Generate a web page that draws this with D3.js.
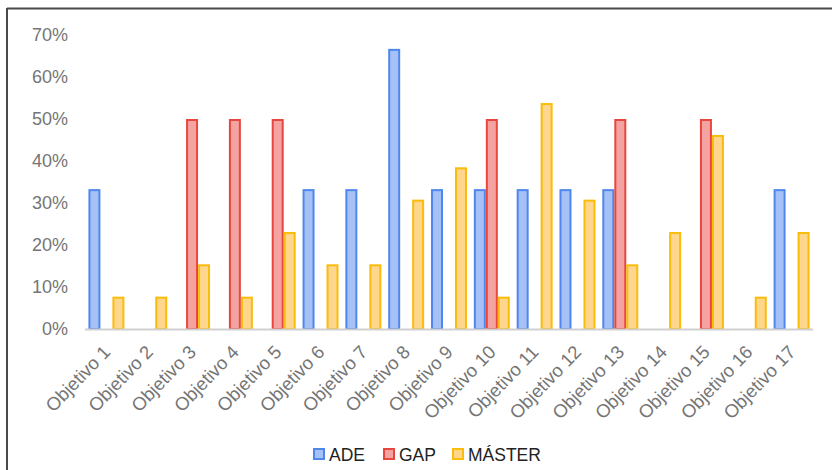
<!DOCTYPE html>
<html>
<head>
<meta charset="utf-8">
<script src="https://cdn.jsdelivr.net/npm/d3@7/dist/d3.min.js"></script>
<style>
  html, body { margin: 0; padding: 0; background: #fff; }
  svg { display: block; font-family: "Liberation Sans", Arial, sans-serif; }
</style>
</head>
<body>
<svg id="chart" width="832" height="470"></svg>
<script>
// Share of answers per Sustainable Development Goal, by group
const categories = ["Objetivo 1","Objetivo 2","Objetivo 3","Objetivo 4","Objetivo 5","Objetivo 6",
  "Objetivo 7","Objetivo 8","Objetivo 9","Objetivo 10","Objetivo 11","Objetivo 12","Objetivo 13",
  "Objetivo 14","Objetivo 15","Objetivo 16","Objetivo 17"];
const seriesNames = ["ADE", "GAP", "MÁSTER"];
const ade    = [0.333, 0, 0, 0, 0, 0.333, 0.333, 0.667, 0.333, 0.333, 0.333, 0.333, 0.333, 0, 0, 0, 0.333];
const gap    = [0, 0, 0.5, 0.5, 0.5, 0, 0, 0, 0, 0.5, 0, 0, 0.5, 0, 0.5, 0, 0];
const master = [0.077, 0.077, 0.154, 0.077, 0.231, 0.154, 0.154, 0.308, 0.385, 0.077, 0.538, 0.308, 0.154, 0.231, 0.462, 0.077, 0.231];
const yTicks = [0, 0.1, 0.2, 0.3, 0.4, 0.5, 0.6, 0.7];

const seriesValues = [ade, gap, master];
const fills   = ["#a6c1f6", "#f4a3a1", "#fed68d"];
const strokes = ["#4f87ec", "#e8473f", "#fbbc09"];

const svg = d3.select("#chart");

// outer frame (top and left edges visible)
svg.append("line").attr("x1", 7).attr("y1", 8.5).attr("x2", 832).attr("y2", 8.5)
  .attr("stroke", "#4a4a4a").attr("stroke-width", 2);
svg.append("line").attr("x1", 7).attr("y1", 8).attr("x2", 7).attr("y2", 470)
  .attr("stroke", "#4a4a4a").attr("stroke-width", 2);

const x0 = d3.scaleBand().domain(categories).range([85, 813]).paddingInner(0.16).paddingOuter(0.08);
const x1 = d3.scaleBand().domain(seriesNames).range([0, x0.bandwidth()]);
const y = d3.scaleLinear().domain([0, 0.7]).range([329, 35]);

// y axis labels
const yAxis = d3.axisLeft(y).tickValues(yTicks).tickFormat(d3.format(".0%")).tickSize(0).tickPadding(0);
const gy = svg.append("g").attr("transform", "translate(68,0)").call(yAxis);
gy.select(".domain").remove();
gy.selectAll("text").attr("fill", "#757575").attr("font-size", 18)
  .attr("font-family", "Liberation Sans, Arial, sans-serif");

// bars
const groups = svg.append("g").selectAll("g")
  .data(categories).join("g")
  .attr("transform", d => `translate(${x0(d)},0)`);

groups.selectAll("rect")
  .data((c, i) => seriesNames.map((s, k) => ({ s, k, v: seriesValues[k][i] })).filter(d => d.v > 0))
  .join("rect")
  .attr("x", d => x1(d.s) + 1)
  .attr("width", x1.bandwidth() - 2)
  .attr("y", d => y(d.v) + 1)
  .attr("height", d => y(0) - y(d.v) - 1)
  .attr("fill", d => fills[d.k])
  .attr("stroke", d => strokes[d.k])
  .attr("stroke-width", 2);

// baseline
svg.append("line").attr("x1", 85).attr("x2", 813).attr("y1", y(0) + 0.5).attr("y2", y(0) + 0.5)
  .attr("stroke", "#d0d0d0").attr("stroke-width", 2);

// x axis labels, rotated
const xAxis = d3.axisBottom(x0).tickSize(0).tickPadding(0);
const gx = svg.append("g").attr("transform", `translate(0,${y(0)})`).call(xAxis);
gx.select(".domain").remove();
gx.selectAll("text")
  .attr("fill", "#757575").attr("font-size", 18.5)
  .attr("font-family", "Liberation Sans, Arial, sans-serif")
  .attr("text-anchor", "end")
  .attr("dy", null)
  .attr("y", 0)
  .attr("transform", "translate(5,24) rotate(-46)");

// legend
const legend = svg.append("g");
const legendX = [313, 383, 452];
seriesNames.forEach((s, k) => {
  legend.append("rect").attr("x", legendX[k] + 1).attr("y", 449).attr("width", 10).attr("height", 10)
    .attr("fill", fills[k]).attr("stroke", strokes[k]).attr("stroke-width", 2);
  legend.append("text").attr("x", legendX[k] + 16).attr("y", 460.5).text(s)
    .attr("fill", "#222").attr("font-size", 17.5);
});
</script>
</body>
</html>
